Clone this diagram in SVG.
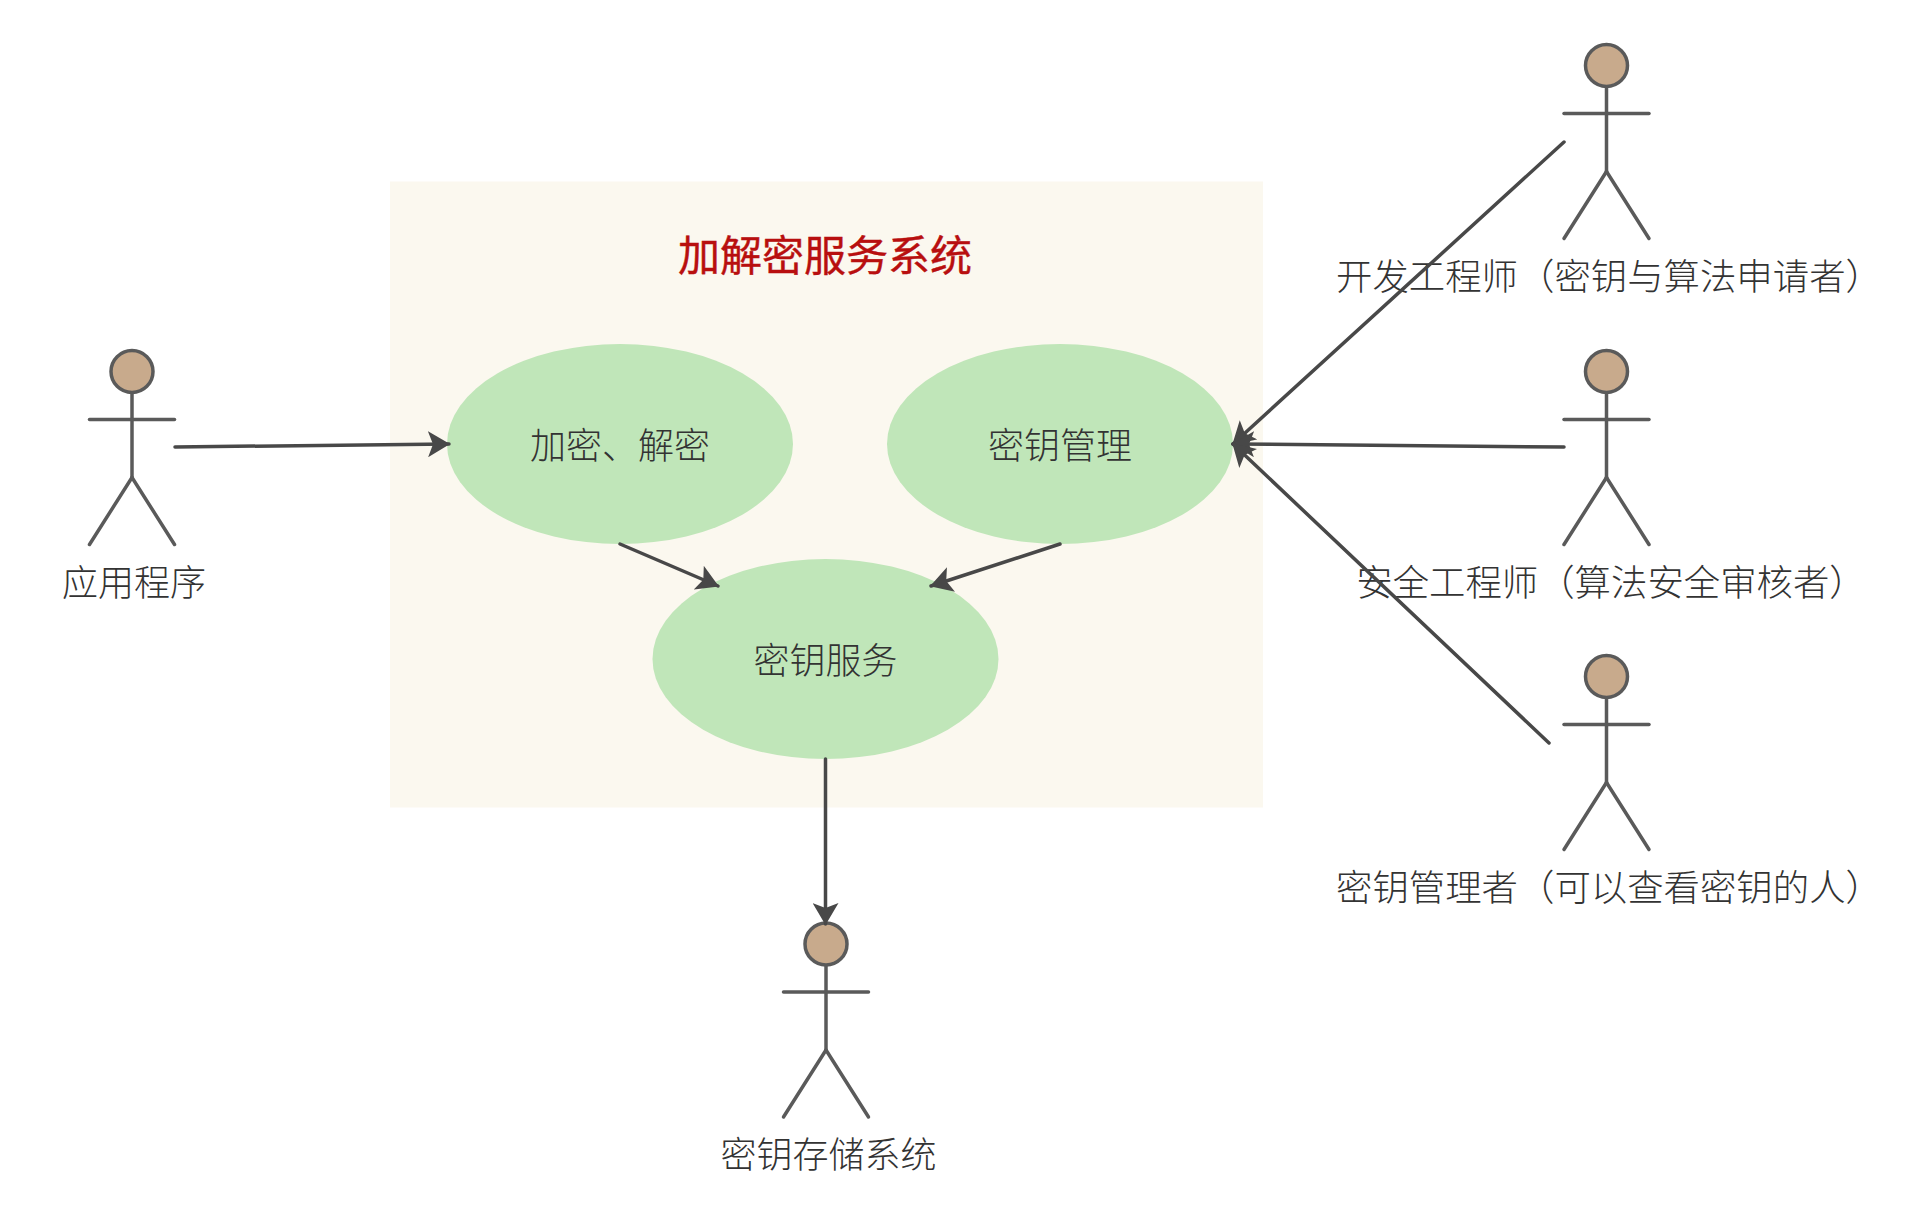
<svg xmlns="http://www.w3.org/2000/svg" width="1920" height="1215" viewBox="0 0 1920 1215">
<style>
text{font-family:"Noto Sans CJK SC","Noto Sans",sans-serif;font-size:36px;fill:#333;text-anchor:middle;font-weight:300;text-spacing-trim:space-all;font-kerning:none}
.wide{font-size:36.400px}
.title{font-size:42px;fill:#b80f0f;font-weight:400;stroke:#b80f0f;stroke-width:.4}
.use{fill:#c0e6b9}
.actor line{stroke:#5a5a5a;stroke-width:3.500;stroke-linecap:round}
.actor circle{fill:#c8aa8c;stroke:#5a5a5a;stroke-width:3.500}
.conn line{stroke:#484848;stroke-width:3.500;marker-end:url(#arrow);stroke-linecap:round}
</style>
<defs>
<marker id="arrow" markerUnits="userSpaceOnUse" markerWidth="24" markerHeight="26" refX="21" refY="13" orient="auto" viewBox="0 0 24 26">
<path d="M0 0L22 13L0 26L5 13Z" fill="#484848"/>
</marker>
<g id="stick" class="actor">
<line x1="0" y1="21" x2="0" y2="106"/>
<line x1="-42.500" y1="48" x2="42.500" y2="48"/>
<line x1="0" y1="106" x2="-42.500" y2="173"/>
<line x1="0" y1="106" x2="42.500" y2="173"/>
<circle cx="0" cy="0" r="21"/>
</g>
</defs>
<rect width="1920" height="1215" fill="#fff"/>
<g id="system"><rect x="390" y="181.500" width="873" height="626" fill="#fbf8ef"/>
<text class="title" x="825" y="270.500">加解密服务系统</text></g>
<g id="encrypt"><ellipse class="use" cx="620" cy="444" rx="173" ry="100"/><text x="620" y="458.500">加密、解密</text></g>
<g id="keymgmt"><ellipse class="use" cx="1060" cy="444" rx="173" ry="100"/><text x="1060" y="458.500">密钥管理</text></g>
<g id="keyservice"><ellipse class="use" cx="825.500" cy="659" rx="173" ry="100"/><text x="825.500" y="673.500">密钥服务</text></g>
<g id="app"><use href="#stick" x="132" y="371.500"/><text x="134" y="595.500">应用程序</text></g>
<g id="dev"><use href="#stick" x="1606.500" y="65.500"/><text class="wide" x="1609" y="289.500">开发工程师（密钥与算法申请者）</text></g>
<g id="sec"><use href="#stick" x="1606.500" y="371.500"/><text class="wide" x="1611" y="595.500">安全工程师（算法安全审核者）</text></g>
<g id="admin"><use href="#stick" x="1606.500" y="676.500"/><text class="wide" x="1609" y="900.500">密钥管理者（可以查看密钥的人）</text></g>
<g id="storage"><use href="#stick" x="826" y="944"/><text x="828.500" y="1168">密钥存储系统</text></g>
<g id="connectors" class="conn">
<line x1="175" y1="447" x2="449" y2="444"/>
<line x1="620" y1="544" x2="718" y2="586"/>
<line x1="1060" y1="544" x2="931" y2="586"/>
<line x1="825.500" y1="759" x2="825.500" y2="924"/>
<line x1="1564" y1="142" x2="1233" y2="444"/>
<line x1="1564" y1="447" x2="1233" y2="444"/>
<line x1="1549" y1="743" x2="1233" y2="444"/>
</g>
</svg>
